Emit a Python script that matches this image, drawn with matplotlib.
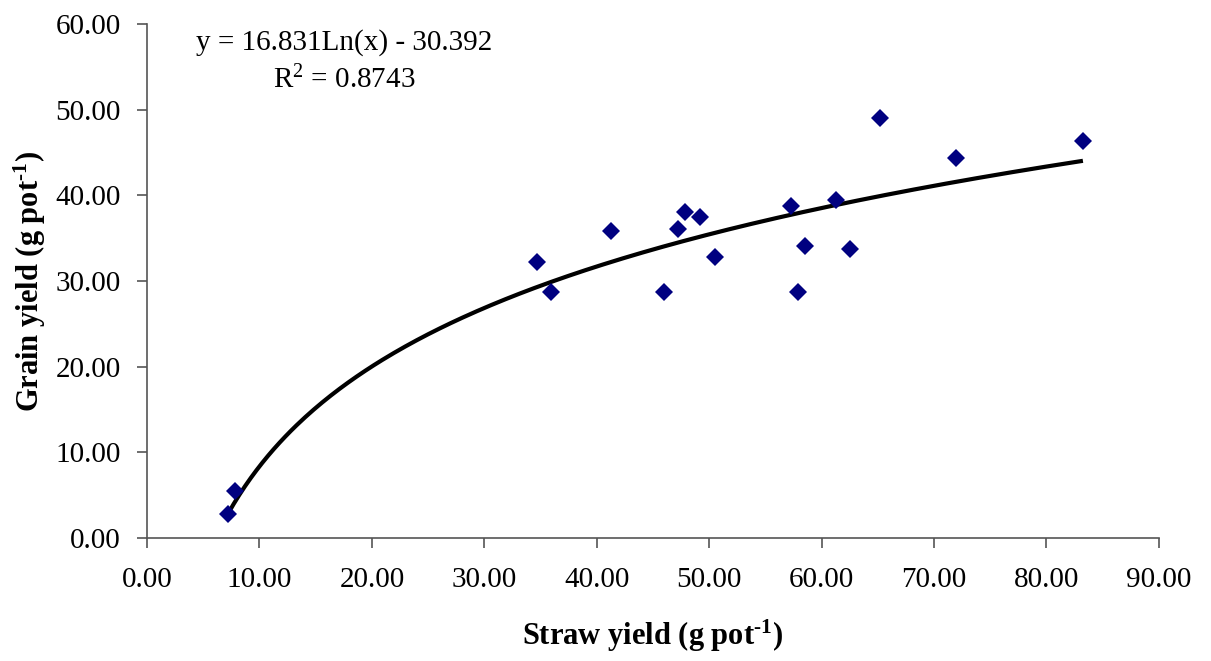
import numpy as np
import matplotlib
matplotlib.use("Agg")
import matplotlib.pyplot as plt

plt.rcParams['font.family'] = ['Liberation Serif', 'DejaVu Serif']
plt.rcParams['mathtext.fontset'] = 'custom'
plt.rcParams['mathtext.rm'] = 'Liberation Serif'
plt.rcParams['mathtext.it'] = 'Liberation Serif:italic'
plt.rcParams['mathtext.bf'] = 'Liberation Serif:bold'

# Straw yield (x) and grain yield (y), g per pot
straw_yield = [7.20, 7.83, 34.68, 35.93, 41.27, 45.98, 47.22, 47.85, 49.18,
               50.52, 57.27, 57.90, 58.52, 61.28, 62.52, 65.19, 71.95, 83.24]
grain_yield = [2.80, 5.48, 32.21, 28.70, 35.82, 28.70, 36.06, 38.04, 37.46,
               32.79, 38.74, 28.70, 34.06, 39.44, 33.72, 49.01, 44.34, 46.32]

# Logarithmic trend line coefficients
coef_a = 16.831
coef_b = -30.392
r_squared = 0.8743

x_ticks = [0, 10, 20, 30, 40, 50, 60, 70, 80, 90]
y_ticks = [0, 10, 20, 30, 40, 50, 60]

fig = plt.figure(figsize=(12.11, 6.61), dpi=100)
ax = fig.add_axes([0.1214, 0.186, 0.8356, 0.7777])

xs = np.asarray(straw_yield)
xfit = np.linspace(xs.min(), xs.max(), 300)
yfit = coef_a * np.log(xfit) + coef_b
ax.plot(xfit, yfit, color='black', lw=3, zorder=2, solid_capstyle='butt')

ax.plot(straw_yield, grain_yield, linestyle='none', marker='D',
        markersize=9.5, color='#000080', markeredgewidth=0, zorder=3)

ax.set_xlim(0, 90)
ax.set_ylim(0, 60)
ax.set_xticks(x_ticks)
ax.set_yticks(y_ticks)
ax.set_xticklabels([f'{v:.2f}' for v in x_ticks])
ax.set_yticklabels([f'{v:.2f}' for v in y_ticks])

for side in ('top', 'right'):
    ax.spines[side].set_visible(False)
for side in ('left', 'bottom'):
    ax.spines[side].set_color('#555555')
    ax.spines[side].set_linewidth(1.2)

ax.tick_params(axis='both', direction='out', length=7, width=1.2,
               color='#555555', labelsize=21, labelcolor='black')
ax.tick_params(axis='x', pad=14)
ax.tick_params(axis='y', pad=12)

ax.set_xlabel('Straw yield (g pot$^{\\mathbf{\u2010}\\mathbf{1}}$)', fontsize=22,
              fontweight='bold', labelpad=18)
ax.set_ylabel('Grain yield (g pot$^{\\mathbf{\u2010}\\mathbf{1}}$)', fontsize=22,
              fontweight='bold', labelpad=5)

ax.text(17.5, 57.8, f'y = {coef_a}Ln(x) - {abs(coef_b)}', fontsize=21,
        ha='center', va='center')
ax.text(17.5, 53.4, f'R$^2$ = {r_squared}', fontsize=21,
        ha='center', va='center')

fig.savefig('out.png', dpi=100)
